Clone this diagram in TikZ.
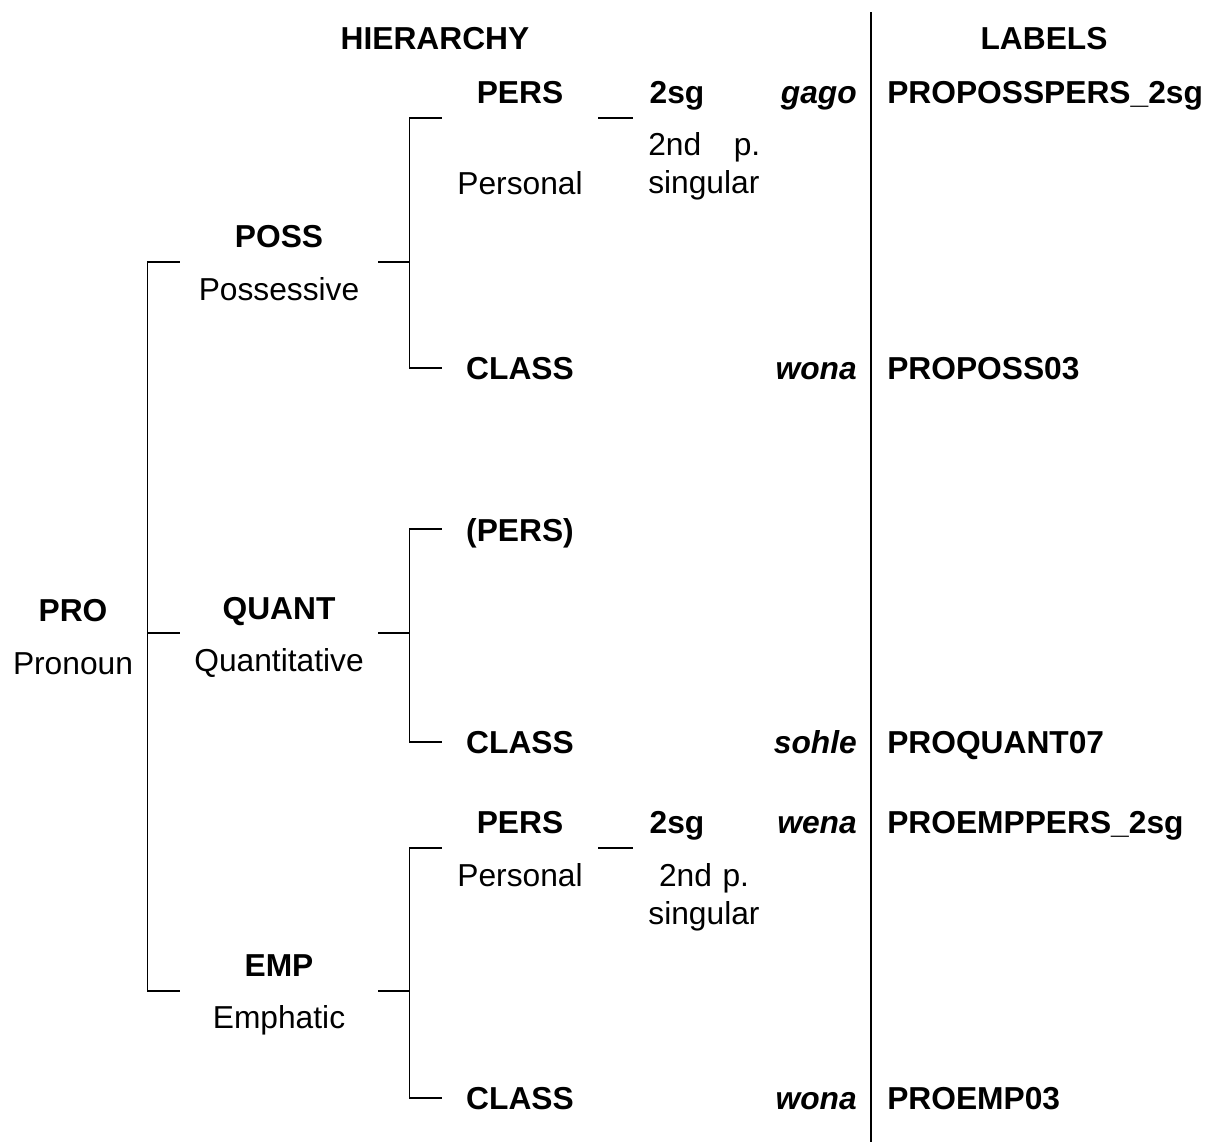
\documentclass[tikz,border=0pt]{standalone}
\usepackage{fontspec}
\setmainfont{Liberation Sans}
\usepackage{tikz}

\tikzset{
  txt/.style={inner sep=0pt, anchor=base, font=\fontsize{23.8}{28.5}\selectfont},
  hd/.style={txt, font=\fontsize{23.8}{28.5}\selectfont\bfseries},
  form/.style={hd, anchor=base east, font=\fontsize{23.8}{28.5}\selectfont\bfseries\itshape},
  lab/.style={hd, anchor=base west},
  slot/.style={inner sep=0pt, minimum height=0pt, minimum width=0.75pt*#1},
  tree/.style={line width=1pt},
}

\begin{document}
\begin{tikzpicture}[x=0.75pt, y=-0.75pt]
    \useasboundingbox (0,0) rectangle (1208,1142);

    % headings and separator
    \node[hd] (hier) at (435,50) {HIERARCHY};
    \node[hd] (labs) at (1044,50) {LABELS};
    \coordinate (septop) at (871,12);
    \coordinate (sepbot) at (871,1142);
    \draw[tree] (septop) -- (sepbot);

    % root
    \node[hd] (pro) at (73,621) {PRO};
    \node[txt] (prog) at (73,674) {Pronoun};

    % possessive
    \node[slot=198] (poss) at (279,262) {};
    \node[hd] (posst) at (279,247) {POSS};
    \node[txt] (possg) at (279,300) {Possessive};
    \node[slot=156] (posspers) at (520,118) {};
    \node[hd] (posspt) at (520,103) {PERS};
    \node[txt] (posspg) at (520,194) {Personal};
    \node[slot=142] (possnum) at (704,118) {};
    \node[hd] (possnt) at (677,103) {2sg};
    \node[txt, anchor=base west, text width=84pt, align=left] (possng) at (648,155) {2nd\hfill p.\\singular};
    \node[form] (gago) at (857,103) {gago};
    \node[lab] (lgago) at (887,103) {PROPOSSPERS\_2sg};
    \node[slot=156] (posscl) at (520,368) {};
    \node[hd] (posst2) at (520,379) {CLASS};
    \node[form] (wona1) at (857,379) {wona};
    \node[lab] (lwona1) at (887,379) {PROPOSS03};

    % quantitative
    \node[slot=198] (quant) at (279,633) {};
    \node[hd] (quantt) at (279,619) {QUANT};
    \node[txt] (quantg) at (279,671) {Quantitative};
    \node[slot=156] (quantpers) at (520,529) {};
    \node[hd] (quantpt) at (520,541) {(PERS)};
    \node[slot=156] (quantcl) at (520,742) {};
    \node[hd] (quantct) at (520,753) {CLASS};
    \node[form] (sohle) at (857,753) {sohle};
    \node[lab] (lsohle) at (887,753) {PROQUANT07};

    % emphatic
    \node[slot=198] (emp) at (279,991) {};
    \node[hd] (empt) at (279,976) {EMP};
    \node[txt] (empg) at (279,1028) {Emphatic};
    \node[slot=156] (emppers) at (520,848) {};
    \node[hd] (emppt) at (520,833) {PERS};
    \node[txt] (emppg) at (520,886) {Personal};
    \node[slot=142] (empnum) at (704,848) {};
    \node[hd] (empnt) at (677,833) {2sg};
    \node[txt, text width=84pt, align=center] (empng) at (704,886) {2nd p.\\singular};
    \node[form] (wena) at (857,833) {wena};
    \node[lab] (lwena) at (887,833) {PROEMPPERS\_2sg};
    \node[slot=156] (empcl) at (520,1098) {};
    \node[hd] (empct) at (520,1109) {CLASS};
    \node[form] (wona2) at (857,1109) {wona};
    \node[lab] (lwona2) at (887,1109) {PROEMP03};

    % brackets
    \draw[tree] (poss.west) -- ++(-32,0) |- (emp.west);
    \draw[tree] (quant.west) -- ++(-32,0);
    \draw[tree] (poss.east) -- ++(32,0);
    \draw[tree] (posspers.west) -- ++(-32,0) |- (posscl.west);
    \draw[tree] (posspers.east) -- (possnum.west);
    \draw[tree] (quant.east) -- ++(32,0);
    \draw[tree] (quantpers.west) -- ++(-32,0) |- (quantcl.west);
    \draw[tree] (emp.east) -- ++(32,0);
    \draw[tree] (emppers.west) -- ++(-32,0) |- (empcl.west);
    \draw[tree] (emppers.east) -- (empnum.west);
\end{tikzpicture}
\end{document}
